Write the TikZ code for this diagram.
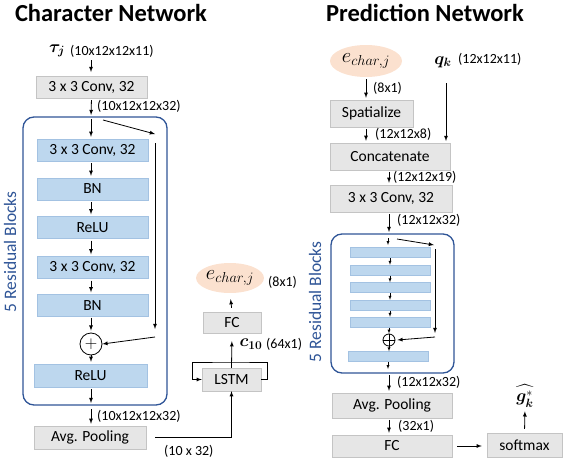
\documentclass[tikz,border=0pt]{standalone}
\usepackage{amsmath,bm}
\usepackage{fontspec}
\setmainfont{Carlito}
\definecolor{boxgray}{HTML}{E6E6E6}
\definecolor{edgegray}{HTML}{C4C4C4}
\definecolor{barblue}{HTML}{BDD7EE}
\definecolor{baredge}{HTML}{A3C2E2}
\definecolor{resblue}{HTML}{2F5597}
\definecolor{peach}{HTML}{FBE1CF}
\newcommand{\titlefont}{\fontsize{24.5}{28}\bfseries\selectfont}
\newcommand{\boxfont}{\fontsize{15.5}{17}\selectfont}
\newcommand{\dimfont}{\fontsize{14}{16}\selectfont}
\newcommand{\symfont}{\fontsize{17}{20}\selectfont}
\tikzstyle{gbox}=[draw=edgegray,fill=boxgray,inner sep=0pt,font=\boxfont]
\tikzstyle{bbox}=[draw=baredge,fill=barblue,inner sep=0pt,font=\boxfont]
\tikzstyle{emb}=[ellipse,fill=peach,inner sep=0pt,font=\fontsize{20}{22}\selectfont]
\tikzstyle{sym}=[inner sep=0pt,font=\symfont]
\tikzstyle{resblock}=[draw=resblue,line width=1.3pt,rounded corners=11pt,inner sep=0pt]
\tikzstyle{flow}=[thick,-latex,shorten >=2pt,shorten <=2pt]
\tikzstyle{tick}=[thick,-latex]
\tikzstyle{dim}=[anchor=west,inner sep=0pt,font=\dimfont]
\tikzstyle{side}=[rotate=90,text=resblue,inner sep=0pt,font=\fontsize{17.5}{20}\selectfont]
\usetikzlibrary{shapes.geometric}

\begin{document}
\begin{tikzpicture}[x=1pt,y=-1pt]
	\useasboundingbox (0,0) rectangle (563,466);

	% character network
	\node[font=\titlefont,anchor=base] (ltitle) at (111,21) {Character Network};
	\node[sym] (tau) at (57,51) {$\boldsymbol{\tau_j}$};
	\node[dim] (taud) at (70,51) {(10x12x12x11)};
	\node[gbox,minimum width=111,minimum height=22] (conv0) at (91.5,87) {3 x 3 Conv, 32};
	\node[resblock,minimum width=144,minimum height=288] (lres) at (95,261) {};
	\node[bbox,minimum width=111,minimum height=22] (c1) at (92.5,150) {3 x 3 Conv, 32};
	\node[bbox,minimum width=111,minimum height=22] (bn1) at (92.5,189) {BN};
	\node[bbox,minimum width=111,minimum height=22] (relu1) at (92.5,227.5) {ReLU};
	\node[bbox,minimum width=111,minimum height=22] (c2) at (92.5,267.5) {3 x 3 Conv, 32};
	\node[bbox,minimum width=111,minimum height=22] (bn2) at (92.5,305.5) {BN};
	\node[circle,draw,thick,minimum size=22,inner sep=0pt,font=\symfont] (lplus) at (91,344) {$+$};
	\node[bbox,minimum width=113,minimum height=23] (relu2) at (90.5,375.5) {ReLU};
	\node[gbox,minimum width=112,minimum height=23] (pool) at (90,437.5) {Avg. Pooling};
	\node[side] (lside) at (10,252) {5 Residual Blocks};

	\coordinate (lin) at (91,117);
	\coordinate (lout) at (91,405);
	\coordinate (lsk0) at (103,120);
	\coordinate (lsk1) at (155,134);
	\coordinate (lsk2) at (155,143);
	\coordinate (lsk3) at (155,329);
	\coordinate (lsk4) at (155,337);

	\draw[tick] (91,60) -- (91,72);
	\draw[flow] (conv0.south) -- (lin);
	\node[dim] (conv0d) at (97,106) {(10x12x12x32)};
	\draw[flow] (lin) -- (c1.north -| lin);
	\draw[tick] (lsk0) -- (lsk1);
	\draw[tick] (lsk2) -- (lsk3);
	\draw[tick] (lsk4) -- (lplus.east);
	\foreach \a/\b in {c1/bn1,bn1/relu1,relu1/c2,c2/bn2}
		\draw[flow] (\a.south -| lin) -- (\b.north -| lin);
	\draw[flow,shorten <=1pt] (bn2.south -| lin) -- (lplus.north);
	\draw[flow,shorten <=0pt] (lplus.south) -- (relu2.north -| lin);
	\draw[flow] (relu2.south -| lin) -- (lout);
	\draw[flow,shorten <=4pt] (lout) -- (pool.north -| lin);
	\node[dim] (poold) at (97,416) {(10x12x12x32)};

	% lstm branch
	\node[gbox,minimum width=59,minimum height=23] (lstm) at (231.5,379.5) {LSTM};
	\node[gbox,minimum width=58,minimum height=21] (fc0) at (232,322.5) {FC};
	\node[emb,minimum width=66,minimum height=30] (ech) at (230,278) {$e_{char,j}$};
	\node[dim] (echd) at (268,282) {(8x1)};
	\node[sym] (cten) at (251,344) {$\boldsymbol{c_{10}}$};
	\node[dim] (ctend) at (266,344) {(64x1)};
	\node[dim] (seqd) at (164,451) {(10 x 32)};
	\coordinate (loop) at (232,362);

	\draw[thick,-latex,shorten <=9pt] (pool.east) -| (lstm.south);
	\draw[thick,-latex,shorten >=8pt] (lstm.north) -- (fc0.south);
	\draw[thick,-latex] (lstm.east) -- ++(6,0) |- (loop) -| ([xshift=-9pt]lstm.west) -- (lstm.west);
	\draw[thick,-latex,shorten >=6pt,shorten <=4pt] (fc0.north) -- (ech.south);

	% prediction network
	\node[font=\titlefont,anchor=base] (rtitle) at (425,21) {Prediction Network};
	\node[emb,minimum width=72,minimum height=32] (ech2) at (366,61) {$e_{char,j}$};
	\node[sym] (qk) at (443,62) {$\boldsymbol{q_k}$};
	\node[dim] (qkd) at (458,59) {(12x12x11)};
	\node[gbox,minimum width=83,minimum height=27] (spat) at (371.5,113.5) {Spatialize};
	\node[gbox,minimum width=120,minimum height=27] (concat) at (390,156.5) {Concatenate};
	\node[gbox,minimum width=122,minimum height=27] (conv1) at (391,198.5) {3 x 3 Conv, 32};
	\node[resblock,minimum width=123,minimum height=139] (rres) at (392.5,303.5) {};
	\node[side] (rside) at (315,302) {5 Residual Blocks};
	\foreach \i/\y in {1/252.5,2/270,3/287.5,4/305,5/322}
		\node[bbox,minimum width=80,minimum height=10] (bar\i) at (390,\y) {};
	\node[bbox,minimum width=80,minimum height=10] (bar6) at (388,356.5) {};
	\node[circle,draw,thick,minimum size=12,inner sep=0pt] (rplus) at (389,340) {};
	\draw[thick] (rplus.north) -- (rplus.south) (rplus.west) -- (rplus.east);
	\node[gbox,minimum width=120,minimum height=25] (pool2) at (392,405.5) {Avg. Pooling};
	\node[gbox,minimum width=120,minimum height=22] (fc2) at (392,446) {FC};
	\node[gbox,minimum width=75,minimum height=24] (soft) at (524.5,445) {softmax};
	\node[sym] (ghat) at (525,396) {$\widehat{\boldsymbol{g}^{*}_{\boldsymbol{k}}}$};

	\coordinate (rin) at (389,234);
	\coordinate (rout) at (389,373);
	\coordinate (rsk0) at (397,239);
	\coordinate (rsk1) at (434,245);
	\coordinate (rsk2) at (435,249);
	\coordinate (rsk3) at (435,333);
	\coordinate (rsk4) at (435,337);

	\draw[flow] (ech2.south) -- (ech2.south |- spat.north);
	\node[dim] (ech2d) at (373,88) {(8x1)};
	\draw[flow] (ech2.south |- spat.south) -- (ech2.south |- concat.north);
	\node[dim] (spatd) at (375,134) {(12x12x8)};
	\draw[thick,-latex] (446,83) -- (446,141);
	\draw[flow] (concat.south -| rin) -- (conv1.north -| rin);
	\node[dim] (concatd) at (393,177) {(12x12x19)};
	\draw[flow] (conv1.south -| rin) -- (rin);
	\node[dim] (conv1d) at (397,220) {(12x12x32)};

	\draw[-latex] (388,238) -- (388,245);
	\foreach \a/\b in {bar1/bar2,bar2/bar3,bar3/bar4,bar4/bar5}
		\draw[-latex] ([yshift=-0.5pt]\a.south) -- (\b.north);
	\draw[-latex] ([yshift=-0.5pt]bar5.south -| rplus) -- (rplus.north);
	\draw[-latex] (rplus.south) -- (bar6.north -| rplus);
	\draw[-latex] (388,362) -- (388,369);
	\draw[tick] (rsk0) -- (rsk1);
	\draw[tick] (rsk2) -- (rsk3);
	\draw[tick] (rsk4) -- ([xshift=2pt]rplus.east);

	\draw[flow] (rout) -- (pool2.north -| rout);
	\node[dim] (rresd) at (397,382) {(12x12x32)};
	\draw[flow] (pool2.south -| rout) -- (fc2.north -| rout);
	\node[dim] (pool2d) at (398,426) {(32x1)};
	\draw[thick,-latex,shorten <=5pt,shorten >=5pt] (fc2.east) -- (fc2.east -| soft.west);
	\draw[thick,-latex,shorten <=4pt,shorten >=4pt] (soft.north) -- (ghat.south);
\end{tikzpicture}
\end{document}
